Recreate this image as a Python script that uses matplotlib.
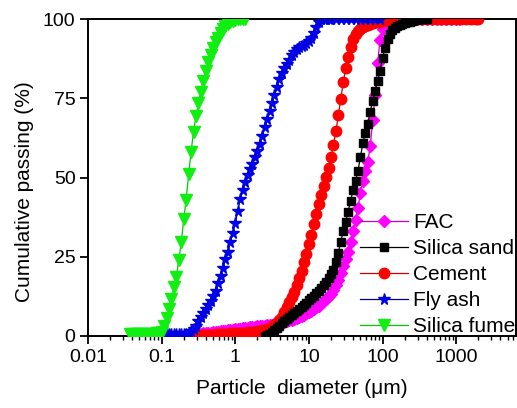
import matplotlib
matplotlib.use("Agg")
import matplotlib.pyplot as plt
from matplotlib.ticker import FixedLocator, FixedFormatter, LogLocator, NullFormatter

plt.rcParams['font.family'] = ['Liberation Sans', 'DejaVu Sans']

# ---- particle size distributions (diameter in um, cumulative passing in %) ----
fac_d = [0.251, 0.271, 0.293, 0.316, 0.341, 0.369, 0.398, 0.430, 0.464, 0.501,
         0.541, 0.584, 0.631, 0.681, 0.736, 0.794, 0.858, 0.926, 1.00, 1.08,
         1.17, 1.26, 1.36, 1.47, 1.58, 1.71, 1.85, 2.00, 2.15, 2.33,
         2.51, 2.71, 2.93, 3.16, 3.41, 3.69, 3.98, 4.30, 4.64, 5.01,
         5.41, 5.84, 6.31, 6.81, 7.36, 7.94, 8.58, 9.26, 10.0, 10.8,
         11.7, 12.6, 13.6, 14.7, 15.8, 17.1, 18.5, 20.0, 21.5, 23.3,
         25.1, 27.1, 29.3, 31.6, 34.1, 36.9, 39.8, 43.0, 46.4, 50.1,
         54.1, 58.4, 63.1, 68.1, 73.6, 79.4, 85.8, 92.6, 100, 108,
         117, 126, 136, 158, 185, 215, 251, 293, 341, 398,
         464, 541, 631, 736, 858, 1000, 1080]
fac_v = [0.3, 0.4, 0.5, 0.6, 0.7, 0.8, 0.9, 1.0, 1.1, 1.2,
         1.3, 1.4, 1.5, 1.6, 1.7, 1.8, 1.9, 2.0, 2.1, 2.2,
         2.3, 2.4, 2.5, 2.6, 2.7, 2.8, 2.9, 3.0, 3.1, 3.2,
         3.3, 3.4, 3.5, 3.6, 3.7, 3.9, 4.1, 4.3, 4.5, 4.7,
         4.9, 5.1, 5.4, 5.7, 6.0, 6.3, 6.7, 7.1, 7.5, 8.0,
         8.5, 9.0, 9.6, 10.3, 11.0, 11.8, 12.5, 13.3, 14.5, 16.0,
         17.8, 19.8, 22.0, 24.2, 26.5, 29.5, 33.0, 36.5, 40.5, 45.0,
         49.0, 52.0, 55.0, 60.0, 68.0, 76.0, 86.0, 93.5, 97.0, 98.8,
         99.5, 99.8, 100, 100, 100, 100, 100, 100, 100, 100,
         100, 100, 100, 100, 100, 100, 100]

sand_d = [2.51, 2.71, 2.93, 3.16, 3.41, 3.69, 3.98, 4.30, 4.64, 5.01,
          5.41, 5.84, 6.31, 6.81, 7.36, 7.94, 8.58, 9.26, 10.0, 10.8,
          11.7, 12.6, 13.6, 14.7, 15.8, 17.1, 18.5, 20.0, 21.5, 23.3,
          25.1, 27.1, 29.3, 31.6, 34.1, 36.9, 39.8, 43.0, 46.4, 50.1,
          54.1, 58.4, 63.1, 68.1, 73.6, 79.4, 85.8, 92.6, 100, 108,
          117, 126, 136, 147, 158, 171, 185, 200, 215, 233,
          251, 271, 293, 316, 341, 369, 398]
sand_v = [0.0, 0.3, 0.7, 1.2, 1.8, 2.5, 3.2, 4.0, 4.8, 5.5,
          6.1, 6.7, 7.3, 7.9, 8.5, 9.1, 9.8, 10.5, 11.2, 11.9,
          12.7, 13.5, 14.3, 15.1, 16.0, 17.0, 18.3, 19.6, 20.8, 23.5,
          26.3, 29.8, 33.0, 36.0, 39.2, 42.6, 46.0, 49.0, 52.0, 56.5,
          60.8, 64.0, 67.0, 70.8, 74.0, 77.2, 80.5, 83.5, 87.8, 90.8,
          93.6, 95.3, 96.6, 97.3, 97.7, 98.0, 98.3, 98.6, 98.9, 99.1,
          99.4, 99.6, 99.8, 100, 100, 100, 100]

cement_d = [0.293, 0.316, 0.341, 0.369, 0.398, 0.430, 0.464, 0.501, 0.541, 0.584,
            0.631, 0.681, 0.736, 0.794, 0.858, 0.926, 1.00, 1.08, 1.17, 1.26,
            1.36, 1.47, 1.58, 1.71, 1.85, 2.00, 2.15, 2.33, 2.51, 2.71,
            2.93, 3.16, 3.41, 3.69, 3.98, 4.30, 4.64, 5.01, 5.41, 5.84,
            6.31, 6.81, 7.36, 7.94, 8.58, 9.26, 10.0, 10.8, 11.7, 12.6,
            13.6, 14.7, 15.8, 17.1, 18.5, 20.0, 21.5, 23.3, 25.1, 27.1,
            29.3, 31.6, 34.1, 36.9, 39.8, 43.0, 46.4, 50.1, 54.1, 58.4,
            63.1, 68.1, 73.6, 79.4, 85.8, 92.6, 100, 108, 117, 126,
            136, 158, 185, 215, 251, 293, 341, 398, 464, 541,
            631, 736, 858, 1000, 1170, 1360, 1580, 1850, 2000]
cement_v = [0.1, 0.15, 0.2, 0.25, 0.3, 0.35, 0.4, 0.45, 0.5, 0.55,
            0.6, 0.65, 0.7, 0.75, 0.8, 0.85, 0.9, 0.95, 1.0, 1.05,
            1.1, 1.15, 1.2, 1.3, 1.4, 1.5, 1.6, 1.75, 1.95, 2.2,
            2.6, 3.0, 3.5, 4.2, 5.0, 6.0, 7.5, 9.0, 10.6, 12.2,
            14.0, 16.0, 18.2, 20.6, 23.2, 26.0, 29.0, 32.0, 35.2, 38.4,
            41.6, 44.6, 47.4, 50.2, 53.0, 56.4, 60.2, 64.6, 69.6, 74.8,
            80.0, 84.4, 88.0, 91.2, 93.6, 95.3, 96.3, 97.0, 97.5, 97.9,
            98.2, 98.5, 98.7, 98.9, 99.0, 99.2, 99.4, 99.6, 99.8, 99.9,
            100, 100, 100, 100, 100, 100, 100, 100, 100, 100,
            100, 100, 100, 100, 100, 100, 100, 100, 100]

flyash_d = [0.0430, 0.0464, 0.0501, 0.0541, 0.0584, 0.0631, 0.0681, 0.0736, 0.0794, 0.0858,
            0.0926, 0.100, 0.108, 0.117, 0.126, 0.136, 0.147, 0.158, 0.171, 0.185,
            0.200, 0.215, 0.233, 0.251, 0.271, 0.293, 0.316, 0.341, 0.369, 0.398,
            0.430, 0.464, 0.501, 0.541, 0.584, 0.631, 0.681, 0.736, 0.794, 0.858,
            0.926, 1.00, 1.08, 1.17, 1.26, 1.36, 1.47, 1.58, 1.71, 1.85,
            2.00, 2.15, 2.33, 2.51, 2.71, 2.93, 3.16, 3.41, 3.69, 3.98,
            4.30, 4.64, 5.01, 5.41, 5.84, 6.31, 6.81, 7.36, 7.94, 8.58,
            9.26, 10.0, 10.8, 11.7, 12.6, 13.6, 14.7, 15.8, 17.1, 18.5,
            20.0, 23.3, 27.1, 31.6, 36.9, 43.0, 50.1, 58.4, 68.1, 79.4, 92.6]
flyash_v = [0.5, 0.6, 0.6, 0.6, 0.6, 0.6, 0.6, 0.6, 0.6, 0.6,
            0.6, 0.6, 0.6, 0.6, 0.6, 0.6, 0.6, 0.6, 0.6, 0.6,
            0.6, 0.7, 0.9, 1.5, 2.2, 3.1, 4.6, 6.0, 7.3, 8.5,
            9.7, 10.9, 12.7, 14.3, 16.6, 19.0, 21.6, 24.2, 26.5, 29.5,
            32.5, 35.6, 39.4, 43.1, 46.0, 48.6, 50.9, 52.6, 54.4, 56.4,
            58.4, 60.6, 63.0, 65.8, 68.4, 71.0, 73.5, 76.0, 78.6, 81.1,
            83.0, 84.6, 85.9, 87.2, 88.5, 89.6, 90.5, 91.1, 91.5, 91.9,
            92.3, 93.0, 94.0, 95.6, 97.6, 99.2, 99.9, 100, 100, 100,
            100, 100, 100, 100, 100, 100, 100, 100, 100, 100, 100]

fume_d = [0.0369, 0.0398, 0.0430, 0.0464, 0.0501, 0.0541, 0.0584, 0.0631, 0.0681, 0.0736,
          0.0794, 0.0858, 0.0926, 0.100, 0.108, 0.117, 0.126, 0.136, 0.147, 0.158,
          0.171, 0.185, 0.200, 0.215, 0.233, 0.251, 0.271, 0.293, 0.316, 0.341,
          0.369, 0.398, 0.430, 0.464, 0.501, 0.541, 0.584, 0.631, 0.681, 0.736,
          0.794, 0.858, 0.926, 1.00, 1.08, 1.17, 1.26, 1.36]
fume_v = [0.5, 0.6, 0.6, 0.6, 0.6, 0.6, 0.6, 0.6, 0.6, 0.6,
          0.7, 0.8, 1.0, 1.4, 3.2, 5.6, 8.4, 11.6, 15.3, 18.5,
          24.0, 29.5, 37.0, 43.0, 51.0, 58.0, 64.5, 69.5, 73.5, 77.0,
          80.5, 83.6, 86.3, 88.8, 91.0, 92.6, 94.0, 95.6, 96.8, 97.7,
          98.4, 99.0, 99.4, 99.7, 99.9, 100, 100, 100]

x_ticks = [0.01, 0.1, 1, 10, 100, 1000]
x_tick_labels = ['0.01', '0.1', '1', '10', '100', '1000']
y_ticks = [0, 25, 50, 75, 100]
y_tick_labels = ['0', '25', '50', '75', '100']

fig = plt.figure(figsize=(5.17, 4.08), dpi=100)
ax = fig.add_axes([88 / 517, 72 / 408, 428 / 517, 317 / 408])

h_fac, = ax.plot(fac_d, fac_v, '-', color='#cc00cc', lw=0.9, marker='D', ms=6.5,
                 mfc='#ff00ff', mec='#ff00ff', label='FAC', zorder=2)
h_cem, = ax.plot(cement_d, cement_v, '-', color='#cc0000', lw=0.9, marker='o', ms=7.5,
                 mfc='#ff0000', mec='#ff0000', label='Cement', zorder=3)
h_sand, = ax.plot(sand_d, sand_v, '-', color='#000000', lw=0.9, marker='s', ms=6,
                  mfc='#000000', mec='#000000', label='Silica sand', zorder=4)
h_fly, = ax.plot(flyash_d, flyash_v, '-', color='#000080', lw=0.9, marker='*', ms=8.5,
                 mfc='#0000ff', mec='#0000dd', label='Fly ash', zorder=5)
h_fume, = ax.plot(fume_d, fume_v, '-', color='#00cc00', lw=0.9, marker='v', ms=8,
                  mfc='#11ee11', mec='#11ee11', label='Silica fume', zorder=6)

ax.set_xscale('log')
ax.set_xlim(0.01, 6500)
ax.set_ylim(0, 100)

ax.xaxis.set_major_locator(FixedLocator(x_ticks))
ax.xaxis.set_major_formatter(FixedFormatter(x_tick_labels))
ax.xaxis.set_minor_locator(LogLocator(base=10, subs=range(2, 10), numticks=20))
ax.xaxis.set_minor_formatter(NullFormatter())
ax.yaxis.set_major_locator(FixedLocator(y_ticks))
ax.yaxis.set_major_formatter(FixedFormatter(y_tick_labels))

for s in ax.spines.values():
    s.set_linewidth(1.4)
ax.tick_params(axis='both', which='major', direction='out', length=6, width=1.3,
               labelsize=14, pad=3, top=False, right=False)
ax.tick_params(axis='x', which='minor', direction='out', length=3, width=1.0,
               top=False)

ax.set_xlabel('Particle  diameter (\u03bcm)', fontsize=15, labelpad=10)
ax.set_ylabel('Cumulative passing (%)', fontsize=15)
ax.yaxis.set_label_coords(-0.125, 0.457)

ax.legend(handles=[h_fac, h_sand, h_cem, h_fly, h_fume], loc='lower left',
          bbox_to_anchor=(0.636, 0.0), frameon=False, fontsize=15,
          borderpad=0, borderaxespad=0, handlelength=2.3, handletextpad=0.25,
          labelspacing=0.33)

fig.savefig('out.png', dpi=100)
